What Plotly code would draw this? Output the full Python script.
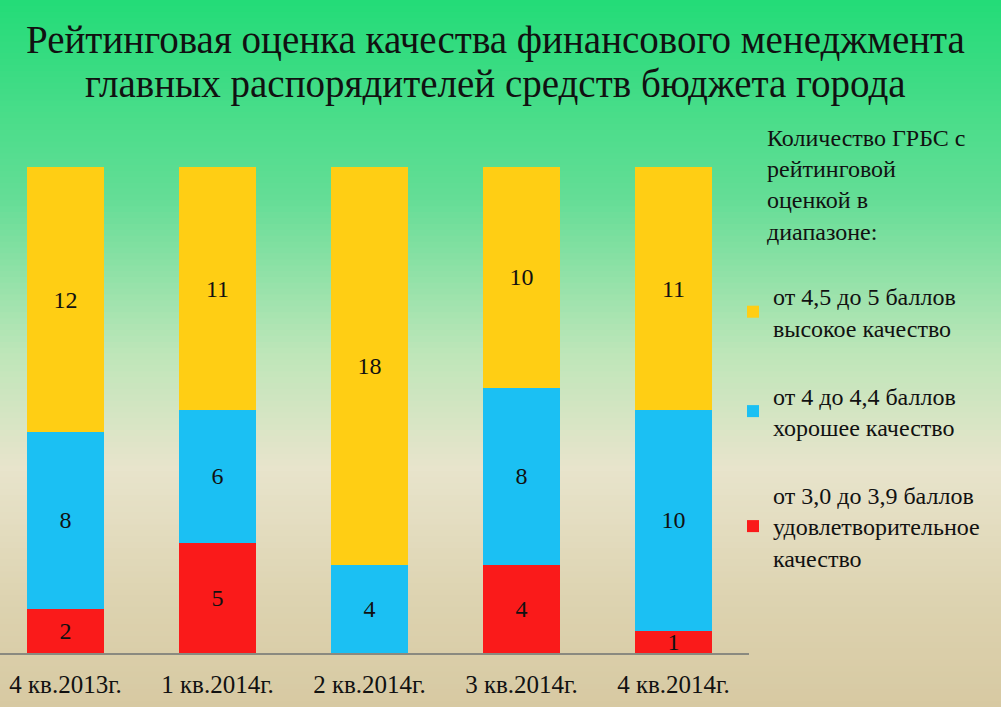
import plotly.graph_objects as go

categories = ["4 кв.2013г.", "1 кв.2014г.", "2 кв.2014г.", "3 кв.2014г.", "4 кв.2014г."]
low_vals = [2, 5, 0, 4, 1]        # от 3,0 до 3,9 баллов
mid_vals = [8, 6, 4, 8, 10]       # от 4 до 4,4 баллов
high_vals = [12, 11, 18, 10, 11]  # от 4,5 до 5 баллов

series_names = [
    "от 3,0 до 3,9 баллов<br>удовлетворительное<br>качество",
    "от 4 до 4,4 баллов<br>хорошее качество",
    "от 4,5 до 5 баллов<br>высокое качество",
]
series_vals = [low_vals, mid_vals, high_vals]
series_colors = ["#FA1A1A", "#1BC0F3", "#FFCE14"]
series_rank = [3, 2, 1]

title_lines = ["Рейтинговая оценка качества финансового менеджмента",
               "главных распорядителей средств бюджета города"]
legend_title = "Количество ГРБС с<br>рейтинговой<br>оценкой в<br>диапазоне:"

W, H = 1001, 707
PLOT_TOP, PLOT_BOT = 167, 653
PLOT_L, PLOT_R = 0, 749
ph = PLOT_BOT - PLOT_TOP
pw = PLOT_R - PLOT_L

SERIF = "Liberation Serif, Times New Roman, serif"

def px_x(x):
    return (x - PLOT_L) / pw

def px_y(y):
    return (PLOT_BOT - y) / ph

fig = go.Figure()
for name, vals, col, rk in zip(series_names, series_vals, series_colors, series_rank):
    fig.add_trace(go.Bar(
        x=categories, y=vals, name=name, marker_color=col,
        marker_line_width=0, legendrank=rk, legendgroup=name,
        text=[str(v) if v else "" for v in vals],
        textposition="inside", insidetextanchor="middle", textangle=0,
        textfont=dict(family=SERIF, size=24, color="#111111"),
        hoverinfo="skip",
    ))

# background gradient strips
stops = [
    (0.0, (35, 220, 120)),
    (0.28, (100, 221, 150)),
    (0.5, (190, 230, 185)),
    (0.66, (232, 228, 204)),
    (0.85, (221, 211, 176)),
    (1.0, (215, 201, 162)),
]

def col_at(t):
    for (t0, c0), (t1, c1) in zip(stops[:-1], stops[1:]):
        if t0 <= t <= t1:
            f = (t - t0) / (t1 - t0) if t1 > t0 else 0
            return tuple(round(a + (b - a) * f) for a, b in zip(c0, c1))
    return stops[-1][1]

shapes = []
N = 120
for i in range(N):
    y0p = H * i / N
    y1p = H * (i + 1) / N + 1
    c = col_at((i + 0.5) / N)
    shapes.append(dict(
        type="rect", xref="paper", yref="paper", layer="below",
        x0=px_x(0) - 0.05, x1=px_x(W) + 0.05,
        y0=px_y(y1p), y1=px_y(y0p),
        fillcolor="rgb(%d,%d,%d)" % c, line=dict(width=0),
    ))

annotations = [
    dict(text=title_lines[0], x=px_x(496), y=px_y(40), xref="paper", yref="paper",
         xanchor="center", yanchor="middle", showarrow=False,
         font=dict(family=SERIF, size=39, color="#111111")),
    dict(text=title_lines[1], x=px_x(495), y=px_y(84), xref="paper", yref="paper",
         xanchor="center", yanchor="middle", showarrow=False,
         font=dict(family=SERIF, size=39, color="#111111")),
    dict(text=legend_title, x=px_x(765), y=px_y(123), xref="paper", yref="paper",
         xanchor="left", yanchor="top", align="left", showarrow=False,
         font=dict(family=SERIF, size=24, color="#111111")),
]

fig.update_layout(
    width=W, height=H,
    barmode="stack", bargap=0.493,
    margin=dict(l=PLOT_L, r=W - PLOT_R, t=PLOT_TOP, b=H - PLOT_BOT, pad=0),
    paper_bgcolor="rgb(220,210,175)", plot_bgcolor="rgba(0,0,0,0)",
    shapes=shapes, annotations=annotations,
    font=dict(family=SERIF, color="#111111"),
    showlegend=True,
    legend=dict(
        x=px_x(733), xanchor="left", y=px_y(274), yanchor="top",
        xref="paper", yref="paper",
        traceorder="grouped", tracegroupgap=34, maxheight=700,
        bgcolor="rgba(0,0,0,0)",
        font=dict(family=SERIF, size=24, color="#111111"),
        itemwidth=30,
    ),
    uniformtext=dict(minsize=24, mode="show"),
)
fig.update_xaxes(range=[-0.431, 4.497], showline=True, linecolor="#8a8a80", linewidth=2,
                 ticks="", showgrid=False, automargin=False, ticklabelstandoff=8,
                 tickfont=dict(family=SERIF, size=25, color="#111111"))
fig.update_yaxes(range=[0, 22], visible=False, showgrid=False, automargin=False)

fig.write_html("out.html", config={"displayModeBar": False},
               post_script="document.body.style.margin='0px';")
